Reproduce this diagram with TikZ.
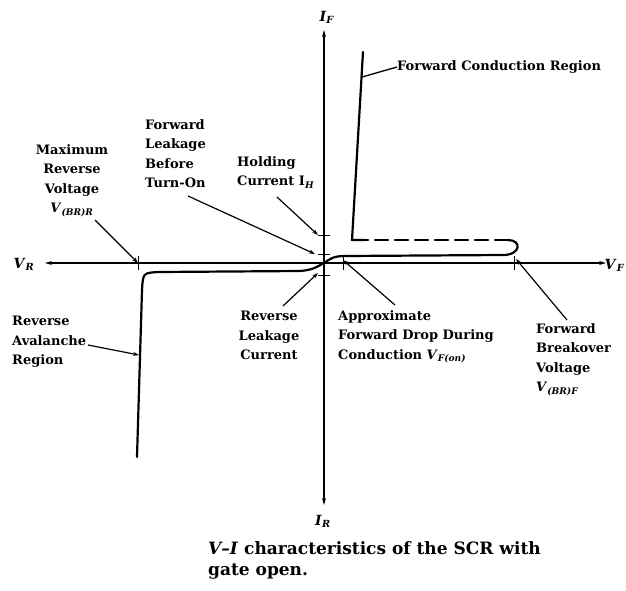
\documentclass[tikz,border=0pt]{standalone}
\usepackage{fontspec}
\setmainfont{DejaVu Serif}
\usetikzlibrary{arrows.meta}
\newcommand{\vsub}[2]{\textit{#1}\textsubscript{\textit{#2}}}
\begin{document}
\begin{tikzpicture}[x=1pt,y=-1pt,
  lbl/.style={font=\fontsize{13}{19.5}\selectfont\bfseries, inner sep=0pt},
  axlbl/.style={font=\fontsize{14}{15}\selectfont\bfseries, inner sep=0pt},
  axis/.style={line width=1.1pt},
  curve/.style={line width=2.2pt, line cap=round, line join=round},
  ptr/.style={line width=1.2pt,-{Stealth[length=6pt,width=4pt]}},
  tickmark/.style={line width=1pt}]
\useasboundingbox (0,0) rectangle (626,590);
% axes
\coordinate (O) at (324,263);
\coordinate (Ftop) at (324,30);
\coordinate (Rbot) at (324,505);
\coordinate (Vleft) at (45,263);
\coordinate (Vright) at (606,263);
\draw[axis,{Stealth[length=7pt,width=4pt]}-{Stealth[length=7pt,width=4pt]}] (Rbot) -- (Ftop);
\draw[axis,{Stealth[length=7pt,width=4pt]}-{Stealth[length=7pt,width=4pt]}] (Vleft) -- (Vright);
\node[axlbl] (IF) at (327,17) {\vsub{I}{F}};
\node[axlbl] (IR) at (323,521) {\vsub{I}{R}};
\node[axlbl] (VR) at (24,264) {\vsub{V}{R}};
\node[axlbl,anchor=east] (VF) at (625,265) {\vsub{V}{F}};
% ticks
\coordinate (tBRR) at (138,263);
\coordinate (tFon) at (343,263);
\coordinate (tBRF) at (514,263);
\coordinate (tH) at (324,235);
\coordinate (tFL) at (324,254);
\coordinate (tRL) at (324,275);
\foreach \t in {tBRR,tFon,tBRF}{\draw[tickmark] ([yshift=-7pt]\t) -- ([yshift=7pt]\t);}
\foreach \t in {tH,tFL,tRL}{\draw[tickmark] ([xshift=-6pt]\t) -- ([xshift=6pt]\t);}
% characteristic
\draw[curve] (137,457) -- (142,290) .. controls (143,273) .. (158,272) -- (300,271)
  .. controls (314,270) and (318,266) .. (O) .. controls (330,259) and (333,256) .. (345,256)
  -- (503,255) .. controls (521,255) and (522,240) .. (508,240);
\draw[curve,dash pattern=on 13pt off 7pt] (508,240) -- (364,240);
\draw[curve] (364,240) -- (352,240) -- (363,52);
\coordinate (cond) at (362,77);
\coordinate (aval) at (139,355);
% labels
\node[lbl,align=center,anchor=north] (maxrev) at (72,144) {Maximum\\Reverse\\Voltage\\\vsub{V}{(BR)R}};
\node[lbl,align=left,anchor=north west] (fwdleak) at (145,119) {Forward\\Leakage\\Before\\Turn-On};
\node[lbl,align=left,anchor=north west] (hold) at (237,156) {Holding\\Current I\textsubscript{\textit{H}}};
\node[lbl,align=center,anchor=north] (revleak) at (269,311) {Reverse\\Leakage\\Current};
\node[lbl,align=left,anchor=north west] (approx) at (338,310) {Approximate\\Forward Drop During\\Conduction \vsub{V}{F(on)}};
\node[lbl,align=left,anchor=north west] (fbreak) at (536,323) {Forward\\Breakover\\Voltage\\\vsub{V}{(BR)F}};
\node[lbl,align=left,anchor=north west] (raval) at (12,316) {Reverse\\Avalanche\\Region};
\node[lbl,anchor=west] (fcond) at (397,67) {Forward Conduction Region};
\node[font=\fontsize{17}{21}\selectfont\bfseries, align=left, anchor=north west, inner sep=0pt] (cap) at (208,541) {\textit{V--I} characteristics of the SCR with\\gate open.};
% pointers
\coordinate (p1) at (95,220);
\coordinate (p2) at (188,196);
\coordinate (p3) at (277,197);
\coordinate (p4) at (283,306);
\coordinate (p5) at (395,305);
\coordinate (p6) at (567,320);
\coordinate (p7) at (88,345);
\coordinate (p8) at (397,67);
\draw[ptr] (p1) -- (tBRR);
\draw[ptr] (p2) -- ([xshift=-9pt]tFL);
\draw[ptr] (p3) -- ([xshift=-6pt]tH);
\draw[ptr] (p4) -- ([xshift=-6pt,yshift=2pt]tRL);
\draw[ptr] (p5) -- ([yshift=3pt]tFon);
\draw[ptr] (p6) -- ([yshift=4pt,xshift=2pt]tBRF);
\draw[ptr] (p7) -- (aval);
\draw[line width=1.3pt] (p8) -- (cond);
\end{tikzpicture}
\end{document}
